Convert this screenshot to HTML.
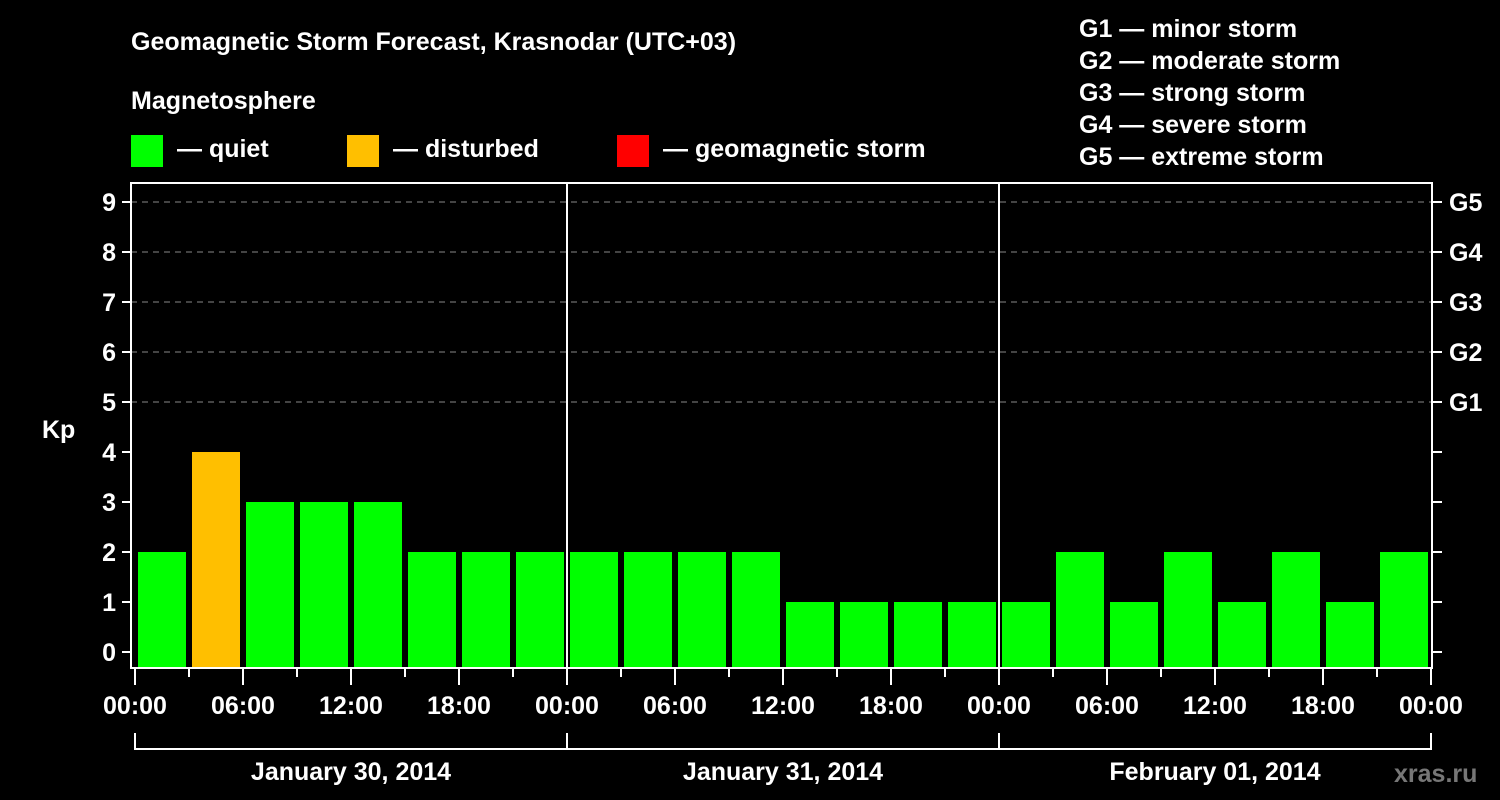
<!DOCTYPE html>
<html><head><meta charset="utf-8"><style>
html,body{margin:0;padding:0;background:#000;}
svg{display:block;font-family:"Liberation Sans",sans-serif;font-weight:bold;}
</style></head><body>
<svg id="chart" width="1500" height="800" xmlns="http://www.w3.org/2000/svg">
<rect width="1500" height="800" fill="#000"/>
<text x="131" y="50" fill="#fff" font-size="25">Geomagnetic Storm Forecast, Krasnodar (UTC+03)</text>
<text x="131" y="109" fill="#fff" font-size="25">Magnetosphere</text>
<g><rect x="131" y="135" width="32" height="32" fill="#00ff00"/><text x="177" y="157" fill="#fff" font-size="25">— quiet</text></g>
<g><rect x="347" y="135" width="32" height="32" fill="#ffbf00"/><text x="393" y="157" fill="#fff" font-size="25">— disturbed</text></g>
<g><rect x="617" y="135" width="32" height="32" fill="#ff0000"/><text x="663" y="157" fill="#fff" font-size="25">— geomagnetic storm</text></g>
<g fill="#fff" font-size="25">
<text x="1079" y="37">G1 — minor storm</text>
<text x="1079" y="69">G2 — moderate storm</text>
<text x="1079" y="101">G3 — strong storm</text>
<text x="1079" y="133">G4 — severe storm</text>
<text x="1079" y="165">G5 — extreme storm</text>
</g>
<text x="42" y="438" fill="#fff" font-size="25">Kp</text>
<text x="1394" y="782" fill="#777" font-size="25">xras.ru</text>
<g id="grid"></g><g id="bars"></g><g id="axes"></g>
</svg>
<script>
const values=[2,4,3,3,3,2,2,2, 2,2,2,2,1,1,1,1, 1,2,1,2,1,2,1,2];
const yTicks=[0,1,2,3,4,5,6,7,8,9];
const gLabels=["G1","G2","G3","G4","G5"];
const xLabels=["00:00","06:00","12:00","18:00","00:00","06:00","12:00","18:00","00:00","06:00","12:00","18:00","00:00"];
const dayLabels=["January 30, 2014","January 31, 2014","February 01, 2014"];
const NS="http://www.w3.org/2000/svg";
const L=131,R=1432,T=183,B=668,X0=135,SLOT=54;
const y=v=>652-v*50;
const x=i=>X0+i*SLOT;
function mk(tag,attrs,parent,text){const e=document.createElementNS(NS,tag);for(const k in attrs)e.setAttribute(k,attrs[k]);if(text!==undefined)e.textContent=text;parent.appendChild(e);return e;}
const grid=document.getElementById('grid'),bars=document.getElementById('bars'),axes=document.getElementById('axes');
yTicks.forEach(v=>{
 if(v>=5){const g=mk('line',{x1:L,x2:R,y1:y(v),y2:y(v),stroke:'#888','stroke-dasharray':'6,5','stroke-width':1},grid);
 
 }
 const t=mk('line',{x1:122,x2:L,y1:y(v),y2:y(v),stroke:'#fff','stroke-width':2},axes);
 
 
 const t2=mk('line',{x1:R,x2:1442,y1:y(v),y2:y(v),stroke:'#fff','stroke-width':2},axes);
 
 
 const lb=mk('text',{x:116,y:y(v)+9,fill:'#fff','font-size':25,'text-anchor':'end'},axes,String(v));
 
 
});
gLabels.forEach((g,i)=>{
 const lb=mk('text',{x:1449,y:y(5+i)+9,fill:'#fff','font-size':25},axes,g);
 
 
});
values.forEach((v,i)=>{
 const c=v>=5?'#ff0000':(v>=4?'#ffbf00':'#00ff00');
 const b=mk('rect',{x:x(i)+3,y:y(v),width:48,height:B-y(v),fill:c},bars);
 
 
});
const fr=mk('rect',{x:L,y:T,width:R-L,height:B-T,fill:'none',stroke:'#fff','stroke-width':2},axes);


for(let d=1;d<3;d++){const dl=mk('line',{x1:x(d*8),x2:x(d*8),y1:T,y2:B,stroke:'#fff','stroke-width':2},axes);
 
 }
for(let i=0;i<=24;i++){const len=(i%2===0)?17:9;
 const tk=mk('line',{x1:x(i),x2:x(i),y1:B,y2:B+len,stroke:'#fff','stroke-width':2},axes);
 
 }
xLabels.forEach((s,i)=>{
 const lb=mk('text',{x:x(i*2),y:714,fill:'#fff','font-size':25,'text-anchor':'middle'},axes,s);
 
 
});
dayLabels.forEach((s,d)=>{
 const x1=x(d*8),x2=x(d*8+8);
 const br=mk('path',{d:`M${x1},733 V749 H${x2} V733`,fill:'none',stroke:'#fff','stroke-width':2},axes);
 
 
 const lb=mk('text',{x:(x1+x2)/2,y:780,fill:'#fff','font-size':25,'text-anchor':'middle'},axes,s);
 
 
});
</script>
</body></html>
